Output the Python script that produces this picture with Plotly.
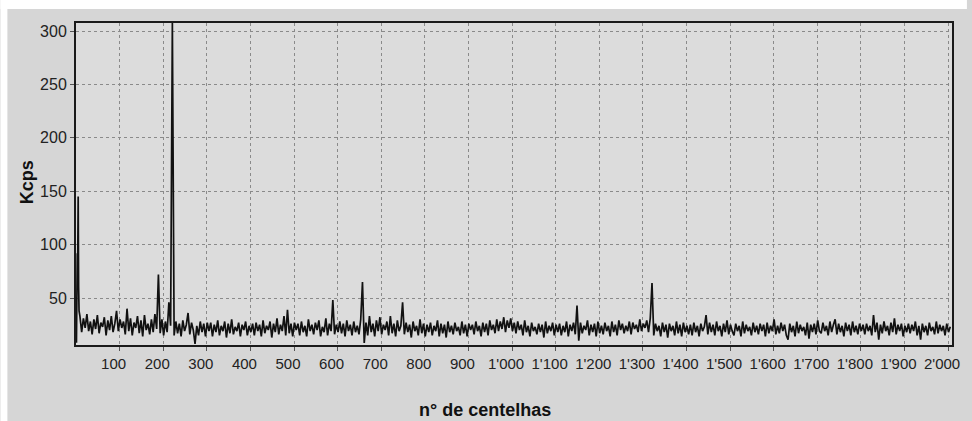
import plotly.graph_objects as go

# spark index for the first few sparks (irregular), then every 4th spark
start_sparks = [1, 2, 3, 4, 5, 6, 7]
start_kcps = [8, 90, 92, 88, 145, 60, 38]

# Kcps readings, one row per 100 sparks (x = 9, 13, 17, ... )
kcps_rows = [
    [33, 18, 31, 22, 35, 19, 28, 16, 30, 21, 34, 17, 27, 23, 32, 15, 29, 20, 33, 18, 26, 38, 19, 30, 22],
    [28, 16, 40, 19, 31, 15, 27, 22, 33, 17, 29, 14, 34, 20, 26, 16, 30, 18, 35, 21, 72, 17, 30, 15, 28],
    [18, 46, 24, 308, 15, 28, 17, 26, 14, 29, 19, 25, 36, 16, 27, 20, 7, 24, 15, 28, 18, 26, 14, 27, 19],
    [27, 14, 25, 18, 29, 15, 24, 19, 28, 13, 26, 17, 30, 16, 23, 19, 27, 14, 25, 20, 28, 15, 24, 18, 26],
    [15, 27, 19, 25, 14, 29, 17, 24, 20, 28, 13, 26, 18, 31, 16, 25, 19, 33, 15, 39, 17, 26, 14, 27, 20],
    [26, 15, 28, 18, 24, 14, 30, 19, 25, 16, 27, 20, 29, 14, 23, 18, 31, 15, 26, 19, 48, 16, 25, 18, 28],
    [17, 26, 14, 29, 19, 25, 15, 28, 18, 24, 16, 30, 65, 8, 27, 15, 33, 18, 26, 14, 29, 19, 32, 16, 25],
    [20, 28, 15, 33, 17, 26, 14, 29, 19, 24, 46, 16, 27, 18, 25, 13, 28, 19, 24, 15, 30, 17, 26, 14, 25],
    [18, 27, 15, 24, 19, 29, 14, 26, 17, 25, 13, 28, 18, 24, 16, 27, 19, 23, 15, 28, 17, 25, 14, 26, 20],
    [25, 16, 28, 19, 24, 14, 27, 18, 26, 15, 29, 20, 25, 17, 30, 19, 28, 21, 32, 18, 29, 22, 31, 19, 27],
    [17, 28, 20, 25, 15, 29, 18, 24, 14, 27, 19, 23, 16, 26, 18, 25, 13, 28, 17, 24, 19, 27, 15, 25, 18],
    [26, 15, 24, 18, 28, 14, 25, 19, 27, 16, 43, 10, 27, 17, 24, 20, 29, 15, 25, 18, 26, 14, 28, 17, 24],
    [16, 27, 19, 24, 14, 28, 18, 25, 15, 29, 20, 26, 17, 24, 19, 28, 16, 27, 21, 25, 18, 30, 19, 26, 22],
    [29, 18, 31, 64, 15, 26, 19, 24, 14, 27, 18, 25, 13, 26, 19, 24, 15, 28, 17, 25, 14, 27, 18, 24, 16],
    [25, 15, 27, 18, 24, 14, 26, 19, 23, 34, 16, 27, 18, 25, 15, 28, 19, 24, 14, 26, 18, 29, 16, 25, 19],
    [15, 26, 19, 24, 14, 28, 17, 25, 19, 23, 15, 27, 18, 24, 16, 26, 19, 25, 14, 27, 17, 24, 19, 30, 16],
    [24, 17, 27, 19, 25, 15, 11, 26, 18, 24, 14, 28, 17, 25, 19, 23, 15, 27, 12, 25, 18, 26, 16, 29, 19],
    [17, 27, 19, 24, 15, 28, 18, 25, 30, 16, 26, 18, 24, 14, 27, 19, 25, 15, 28, 18, 24, 16, 26, 19, 25],
    [16, 26, 19, 24, 15, 34, 18, 27, 11, 25, 17, 28, 19, 24, 15, 27, 18, 31, 16, 25, 19, 26, 14, 24, 18],
    [26, 17, 25, 19, 28, 15, 24, 11, 26, 18, 24, 15, 27, 19, 23, 16, 28, 17, 25, 19, 24, 15, 26, 18, 23],
]

x_tickvals = [100, 200, 300, 400, 500, 600, 700, 800, 900, 1000,
              1100, 1200, 1300, 1400, 1500, 1600, 1700, 1800, 1900, 2000]
x_ticktext = ["100", "200", "300", "400", "500", "600", "700", "800", "900", "1'000",
              "1'100", "1'200", "1'300", "1'400", "1'500", "1'600", "1'700", "1'800", "1'900", "2'000"]
y_tickvals = [50, 100, 150, 200, 250, 300]

sparks = list(start_sparks)
kcps = list(start_kcps)
for r, row in enumerate(kcps_rows):
    for i, v in enumerate(row):
        sparks.append(9 + 100 * r + 4 * i)
        kcps.append(v)

fig = go.Figure()
fig.add_trace(go.Scatter(x=sparks, y=kcps, mode="lines",
                         line=dict(color="#111111", width=1.7),
                         hoverinfo="x+y", showlegend=False))

W, H = 972, 421
ml, mr, mt, mb = 76, 15, 23, 76
pw, ph = W - ml - mr, H - mt - mb

def px_x(p):
    return (p - ml) / pw

def px_y(p):
    return 1 - (p - mt) / ph

# white strips at the top and left of the picture
fig.add_shape(type="rect", xref="paper", yref="paper",
              x0=px_x(0), x1=px_x(W), y0=px_y(9), y1=px_y(0),
              fillcolor="white", line_width=0, layer="below")
fig.add_shape(type="rect", xref="paper", yref="paper",
              x0=px_x(0), x1=px_x(7), y0=px_y(H), y1=px_y(0),
              fillcolor="white", line_width=0, layer="below")

font_fam = "Liberation Sans, Arial, sans-serif"

fig.add_annotation(text="<b>n° de centelhas</b>", xref="paper", yref="paper",
                   x=px_x(487), y=px_y(410), showarrow=False,
                   font=dict(family=font_fam, size=18, color="#111111"),
                   xanchor="center", yanchor="middle")
fig.add_annotation(text="<b>Kcps</b>", xref="paper", yref="paper",
                   x=px_x(27), y=px_y(182), showarrow=False, textangle=-90,
                   font=dict(family=font_fam, size=18, color="#111111"),
                   xanchor="center", yanchor="middle")

fig.update_layout(
    width=W, height=H,
    margin=dict(l=ml, r=mr, t=mt, b=mb),
    paper_bgcolor="#d6d6d6",
    plot_bgcolor="#dcdcdc",
    font=dict(family=font_fam, size=16, color="#222222"),
    showlegend=False,
)
fig.update_xaxes(range=[0, 2009], tickvals=x_tickvals, ticktext=x_ticktext,
                 showline=True, linecolor="#1a1a1a", linewidth=2, mirror=True,
                 ticks="outside", ticklen=4, tickcolor="#555555",
                 showgrid=True, gridcolor="#8a8a8a", gridwidth=1, griddash="3px,3px",
                 zeroline=False, ticklabelshift=-6,
                 tickfont=dict(size=15, color="#222222"))
fig.update_yaxes(range=[6, 307.5], tickvals=y_tickvals,
                 showline=True, linecolor="#1a1a1a", linewidth=2, mirror=True,
                 ticks="outside", ticklen=4, tickcolor="#555555",
                 showgrid=True, gridcolor="#8a8a8a", gridwidth=1, griddash="3px,3px",
                 zeroline=False, tickfont=dict(size=16, color="#222222"))

post = (
    "document.documentElement.style.margin='0';"
    "document.documentElement.style.overflow='hidden';"
    "document.body.style.margin='0';"
    "document.body.style.overflow='hidden';"
)

fig.write_html("out.html", config={"displayModeBar": False}, post_script=post)
